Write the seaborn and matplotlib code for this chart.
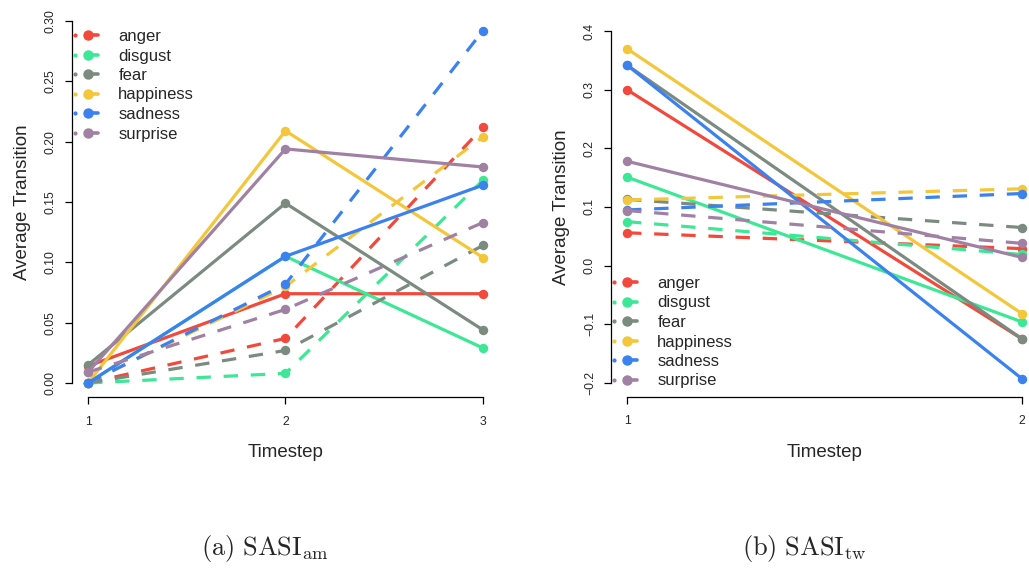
import pandas as pd
import matplotlib.pyplot as plt
import seaborn as sns
from matplotlib.lines import Line2D
from matplotlib.legend_handler import HandlerBase

# emotions and colours
emotions = ['anger', 'disgust', 'fear', 'happiness', 'sadness', 'surprise']
colors = ['#F2493C', '#3CE895', '#7B8B80', '#F4C63A', '#3B82F0', '#A081A3']

# SASI_am : three timesteps
steps_am = [1, 2, 3]
am_solid = {
    'anger':     [0.014, 0.074, 0.074],
    'disgust':   [0.000, 0.105, 0.029],
    'fear':      [0.015, 0.149, 0.044],
    'happiness': [0.000, 0.209, 0.104],
    'sadness':   [0.000, 0.105, 0.164],
    'surprise':  [0.009, 0.194, 0.179],
}
am_dashed = {
    'anger':     [0.000, 0.037, 0.212],
    'disgust':   [0.000, 0.008, 0.168],
    'fear':      [0.000, 0.027, 0.114],
    'happiness': [0.000, 0.080, 0.204],
    'sadness':   [0.000, 0.082, 0.292],
    'surprise':  [0.009, 0.061, 0.133],
}

# SASI_tw : two timesteps
steps_tw = [1, 2]
tw_solid = {
    'anger':     [0.300, -0.125],
    'disgust':   [0.151, -0.096],
    'fear':      [0.342, -0.125],
    'happiness': [0.370, -0.082],
    'sadness':   [0.342, -0.193],
    'surprise':  [0.178, 0.014],
}
tw_dashed = {
    'anger':     [0.056, 0.029],
    'disgust':   [0.075, 0.019],
    'fear':      [0.113, 0.065],
    'happiness': [0.112, 0.131],
    'sadness':   [0.095, 0.123],
    'surprise':  [0.094, 0.038],
}

am_yticks = [0.00, 0.05, 0.10, 0.15, 0.20, 0.25, 0.30]
tw_yticks = [-0.2, -0.1, 0.0, 0.1, 0.2, 0.3, 0.4]


def to_long(steps, solid, dashed):
    rows = []
    for kind, d in [('dashed', dashed), ('solid', solid)]:
        for emo in emotions:
            for t, v in zip(steps, d[emo]):
                rows.append({'Timestep': t, 'value': v, 'emotion': emo, 'kind': kind})
    return pd.DataFrame(rows)


class DotLineHandler(HandlerBase):
    # small dot, then a big dot with a short line (R style legend)
    def create_artists(self, legend, orig, xd, yd, w, h, fs, trans):
        c = orig.get_color()
        y = (h - yd) / 2
        x0 = -xd
        small = Line2D([x0], [y], marker='o', ms=2, color=c, lw=0)
        line = Line2D([x0 + 0.55 * w, x0 + w], [y, y], color=c, lw=2.6,
                      solid_capstyle='round')
        big = Line2D([x0 + 0.55 * w], [y], marker='o', ms=6.5, color=c, lw=0)
        for a in (small, line, big):
            a.set_transform(trans)
        return [small, line, big]


sns.set_style('ticks')
plt.rcParams['font.family'] = ['Liberation Sans', 'DejaVu Sans']
plt.rcParams['mathtext.fontset'] = 'cm'

palette = dict(zip(emotions, colors))
dashes = {'solid': '', 'dashed': (4.5, 4)}

fig = plt.figure(figsize=(10.29, 5.77), dpi=100)
ax1 = fig.add_axes([0.0702, 0.3111, 0.4145, 0.6776])
ax2 = fig.add_axes([0.594, 0.312, 0.4146, 0.6585])

panels = [
    (ax1, to_long(steps_am, am_solid, am_dashed), steps_am, am_yticks,
     ['0.00', '0.05', '0.10', '0.15', '0.20', '0.25', '0.30']),
    (ax2, to_long(steps_tw, tw_solid, tw_dashed), steps_tw, tw_yticks,
     ['\u22120.2', '\u22120.1', '0.0', '0.1', '0.2', '0.3', '0.4']),
]

for ax, df, steps, yt, ylab in panels:
    sns.lineplot(data=df, x='Timestep', y='value', hue='emotion', style='kind',
                 palette=palette, dashes=dashes, markers={'solid': 'o', 'dashed': 'o'},
                 hue_order=emotions, style_order=['dashed', 'solid'],
                 lw=2.3, ms=6.8, markeredgewidth=0, legend=False, ax=ax)
    xpad = (steps[-1] - steps[0]) * 0.04
    ypad = (yt[-1] - yt[0]) * 0.04
    ax.set_xlim(steps[0] - xpad, steps[-1] + xpad)
    ax.set_ylim(yt[0] - ypad, yt[-1] + ypad)
    ax.set_xticks(steps)
    ax.set_xticklabels([str(s) for s in steps])
    ax.set_yticks(yt)
    ax.set_yticklabels(ylab, rotation=90, va='center')
    for s in ['top', 'right']:
        ax.spines[s].set_visible(False)
    ax.spines['left'].set_bounds(yt[0], yt[-1])
    ax.spines['bottom'].set_bounds(steps[0], steps[-1])
    for s in ['left', 'bottom']:
        ax.spines[s].set_color('black')
        ax.spines[s].set_linewidth(0.9)
    ax.tick_params(length=5, width=0.9, color='black', labelsize=8.8)
    ax.tick_params(axis='x', pad=8)
    ax.tick_params(axis='y', pad=6)
    ax.set_xlabel('Timestep', fontsize=13.5, labelpad=12)
    ax.set_ylabel('Average Transition', fontsize=13.5, labelpad=10)

handles = [Line2D([0], [0], color=c) for c in colors]
leg_kw = dict(handler_map={Line2D: DotLineHandler()}, frameon=False, fontsize=12,
              handlelength=1.4, handletextpad=1.2, labelspacing=0.27,
              borderpad=0, borderaxespad=0, loc='upper left',
              bbox_transform=fig.transFigure)
ax1.legend(handles, emotions, bbox_to_anchor=(75 / 1029, 1 - 29 / 577), **leg_kw)
ax2.legend(handles, emotions, bbox_to_anchor=(614 / 1029, 1 - 276 / 577), **leg_kw)

fig.text(265 / 1029, 1 - 548 / 577, r'$\mathrm{(a)\ SASI_{am}}$', fontsize=19,
         ha='center', va='center')
fig.text(804 / 1029, 1 - 548 / 577, r'$\mathrm{(b)\ SASI_{tw}}$', fontsize=19,
         ha='center', va='center')

fig.savefig('out.png', dpi=100)
